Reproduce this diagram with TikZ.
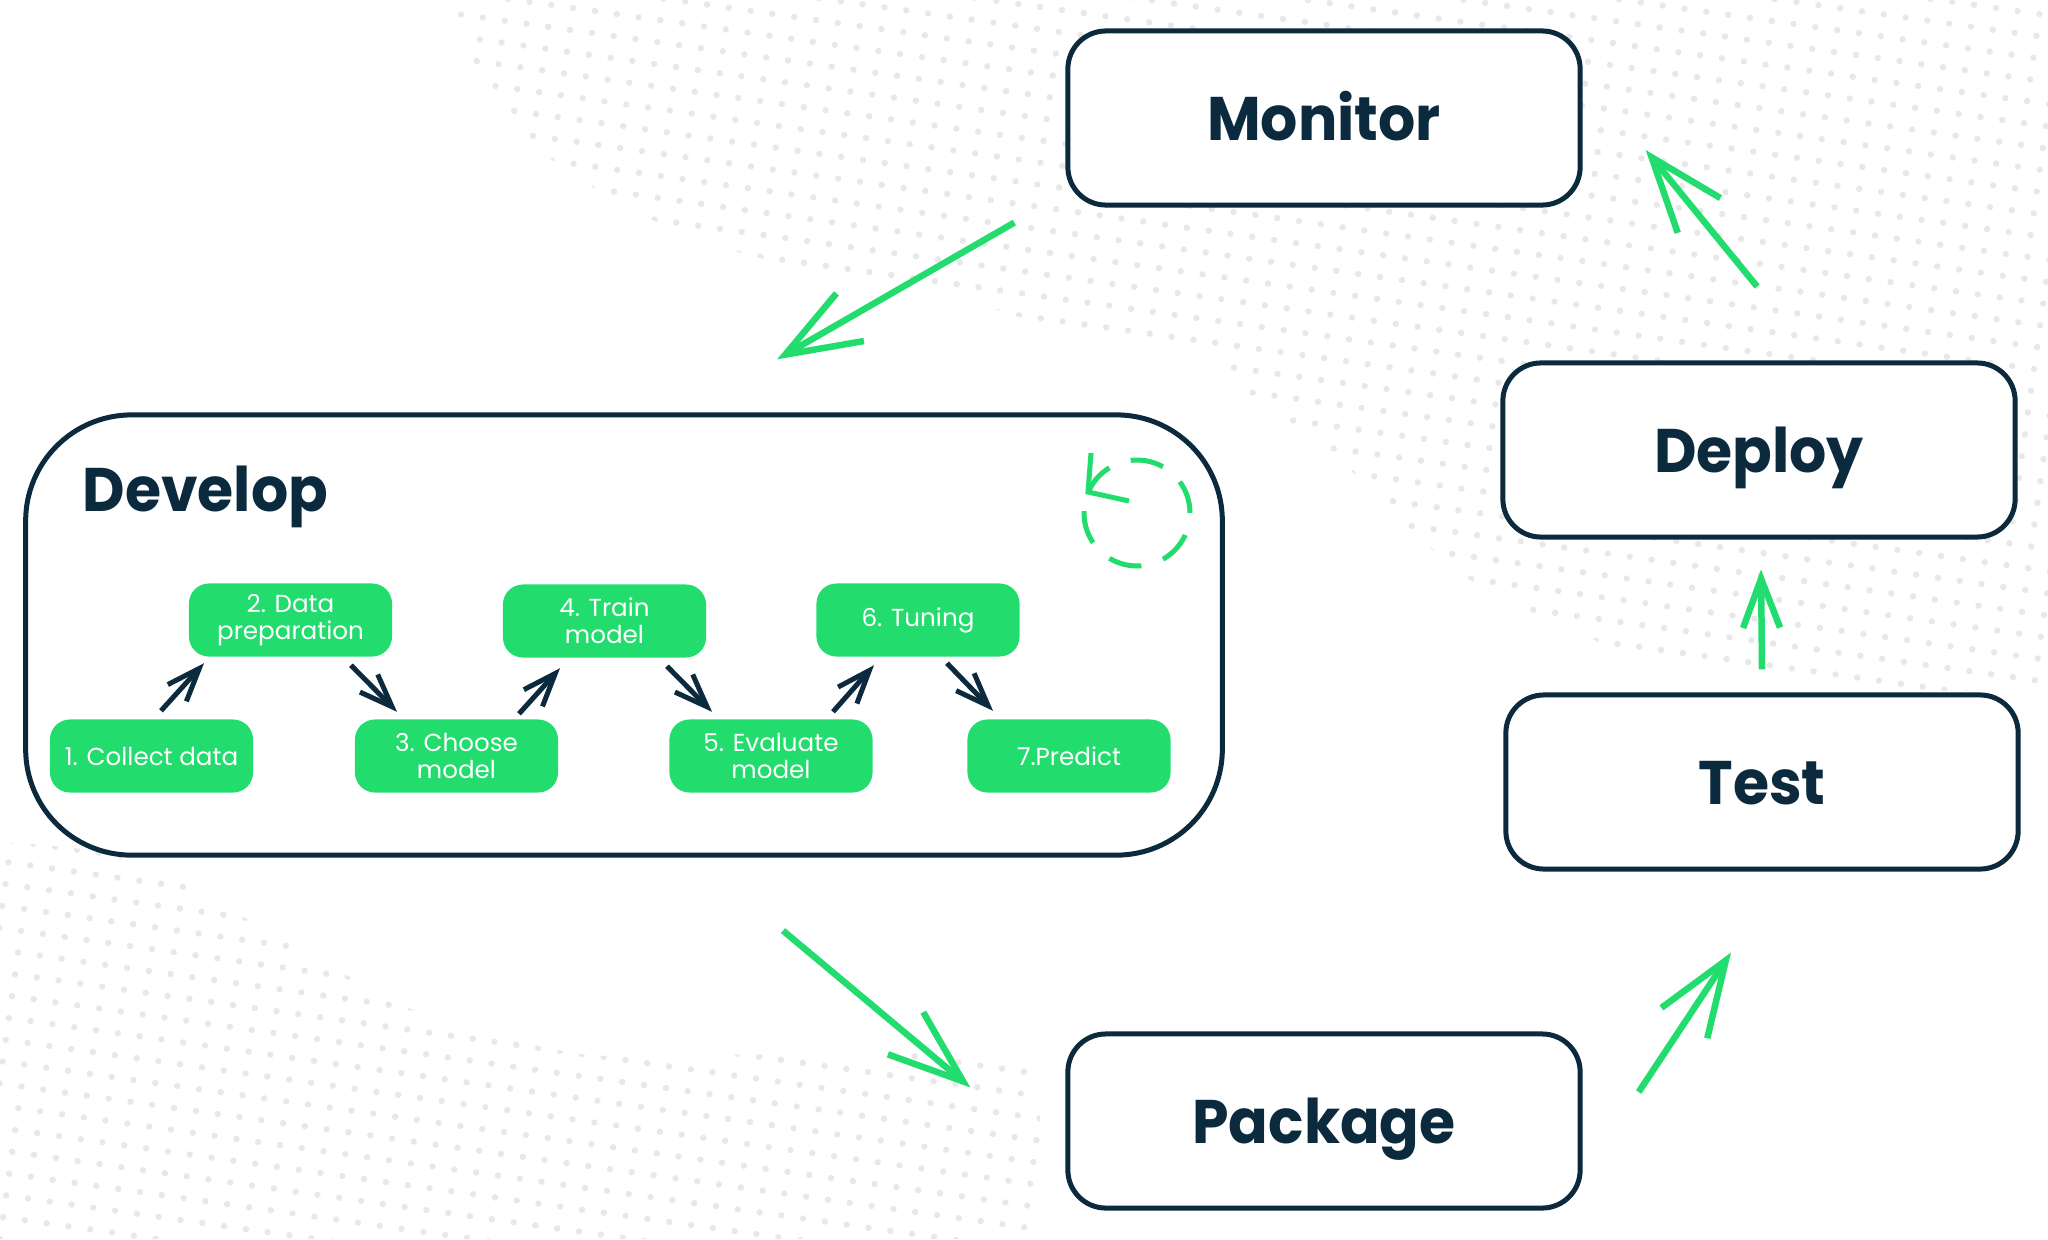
\documentclass[tikz,border=0pt]{standalone}
\usepackage{fontspec}
\setmainfont{Poppins}
\newfontfamily\headfont[FakeStretch=0.95]{Poppins}
\usetikzlibrary{arrows.meta,patterns.meta}
\definecolor{navy}{HTML}{0B2A3D}
\definecolor{mlgreen}{HTML}{22DD6E}
\definecolor{dotgray}{HTML}{E8E8E8}
\begin{document}
\begin{tikzpicture}[x=0.01cm,y=-0.01cm,
  bigbox/.style={draw=navy, fill=white, line width=0.05cm, rounded corners=0.38cm,
    minimum width=5.12cm, minimum height=1.74cm, inner sep=0pt, text=navy,
    text height=0.45cm, text depth=0pt,
    font=\headfont\fontsize{17.5}{21}\selectfont\bfseries},
  devbox/.style={draw=navy, fill=white, line width=0.05cm, rounded corners=1.06cm,
    minimum width=11.96cm, minimum height=4.4cm, inner sep=0pt},
  stepnode/.style={fill=mlgreen, rounded corners=0.2cm, minimum width=2.03cm,
    minimum height=0.73cm, inner sep=0pt, text=white, align=center,
    font=\fontsize{7}{7.7}\selectfont},
  bigarrow/.style={draw=mlgreen, line width=0.065cm,
    -{Straight Barb[length=0.75cm,width=0.55cm]}},
  shortarrow/.style={draw=mlgreen, line width=0.065cm,
    -{Straight Barb[length=0.49cm,width=0.37cm]}},
  smallarrow/.style={draw=navy, line width=0.05cm,
    -{Straight Barb[length=0.33cm,width=0.25cm]}},
  dotfill/.style={pattern={Dots[radius=0.032cm,distance=0.22cm,angle=-8]}, pattern color=dotgray}
]
\useasboundingbox (0,0) rectangle (2048,1239);
\fill[white] (0,0) rectangle (2048,1239);

% faint dotted background
\path[dotfill] plot[smooth] coordinates {(450,0) (468,50) (486,92) (524,137) (586,183)
  (690,237) (820,272) (933,288) (1019,317) (1086,328) (1200,350) (1232,387) (1276,412)
  (1357,476) (1454,569) (1541,617) (1627,651) (1741,673) (1903,691) (2048,687)}
  -- (2048,0) -- cycle;
\path[dotfill] plot[smooth] coordinates {(0,842) (128,857) (236,913) (325,963)
  (421,1013) (574,1053) (700,1055) (900,1053) (1040,1060)}
  -- (1040,1239) -- (0,1239) -- cycle;

% main boxes
\node[bigbox] (mon) at (1324,118) {Monitor};
\node[bigbox] (dep) at (1759,450) {Deploy};
\node[bigbox] (tst) at (1762,782) {Test};
\node[bigbox] (pkg) at (1324,1121) {Package};
\node[devbox] (dev) at (624,635) {};
\node[anchor=base west, text=navy, font=\headfont\fontsize{17.5}{21}\selectfont\bfseries,
  inner sep=0pt] (devlabel) at (82,511) {Develop};

% dashed cycle icon
\coordinate (cyc) at (1137,513);
\coordinate (cyctip) at (1088,492);
\draw[mlgreen, line width=0.05cm, dash pattern=on 0.333cm off 0.228cm]
  (cyc) ++(-178:53) arc[start angle=-178, end angle=-515, radius=53];
\draw[mlgreen, line width=0.05cm, miter limit=20]
  ([shift={(3,-39)}]cyctip) -- (cyctip) -- ([shift={(41,9)}]cyctip);

% develop steps
\node[stepnode] (s1) at (151.5,756) {1. Collect data};
\node[stepnode] (s2) at (290.5,620) {2. Data\\preparation};
\node[stepnode] (s3) at (456.5,756) {3. Choose\\model};
\node[stepnode] (s4) at (604.5,621) {4. Train\\model};
\node[stepnode] (s5) at (771,756) {5. Evaluate\\model};
\node[stepnode] (s6) at (918,620) {6. Tuning};
\node[stepnode] (s7) at (1069,756) {7.Predict};

\draw[smallarrow] ([shift={(9.5,-8)}]s1.north) -- ([shift={(-86.5,6)}]s2.south);
\draw[smallarrow] ([shift={(60.5,8)}]s2.south) -- ([shift={(-59.5,-7)}]s3.north);
\draw[smallarrow] ([shift={(62.5,-5)}]s3.north) -- ([shift={(-44.5,10)}]s4.south);
\draw[smallarrow] ([shift={(62.5,8)}]s4.south) -- ([shift={(-59,-7)}]s5.north);
\draw[smallarrow] ([shift={(62,-7)}]s5.north) -- ([shift={(-44,8)}]s6.south);
\draw[smallarrow] ([shift={(29,6)}]s6.south) -- ([shift={(-76,-8)}]s7.north);

% lifecycle arrows
\draw[bigarrow] ([shift={(-51,15)}]mon.south west) -- ([shift={(153,-53)}]dev.north);
\draw[bigarrow] ([shift={(159,73)}]dev.south) -- ([shift={(-95,56)}]pkg.north west);
\draw[bigarrow] ([shift={(56,-29)}]pkg.east) -- ([shift={(-31,81)}]tst.south);
\draw[shortarrow] ([shift={(0,-23)}]tst.north) -- ([shift={(2,30)}]dep.south);
\draw[bigarrow] ([shift={(-2,-74)}]dep.north) -- ([shift={(63,32)}]mon.east);
\end{tikzpicture}
\end{document}
